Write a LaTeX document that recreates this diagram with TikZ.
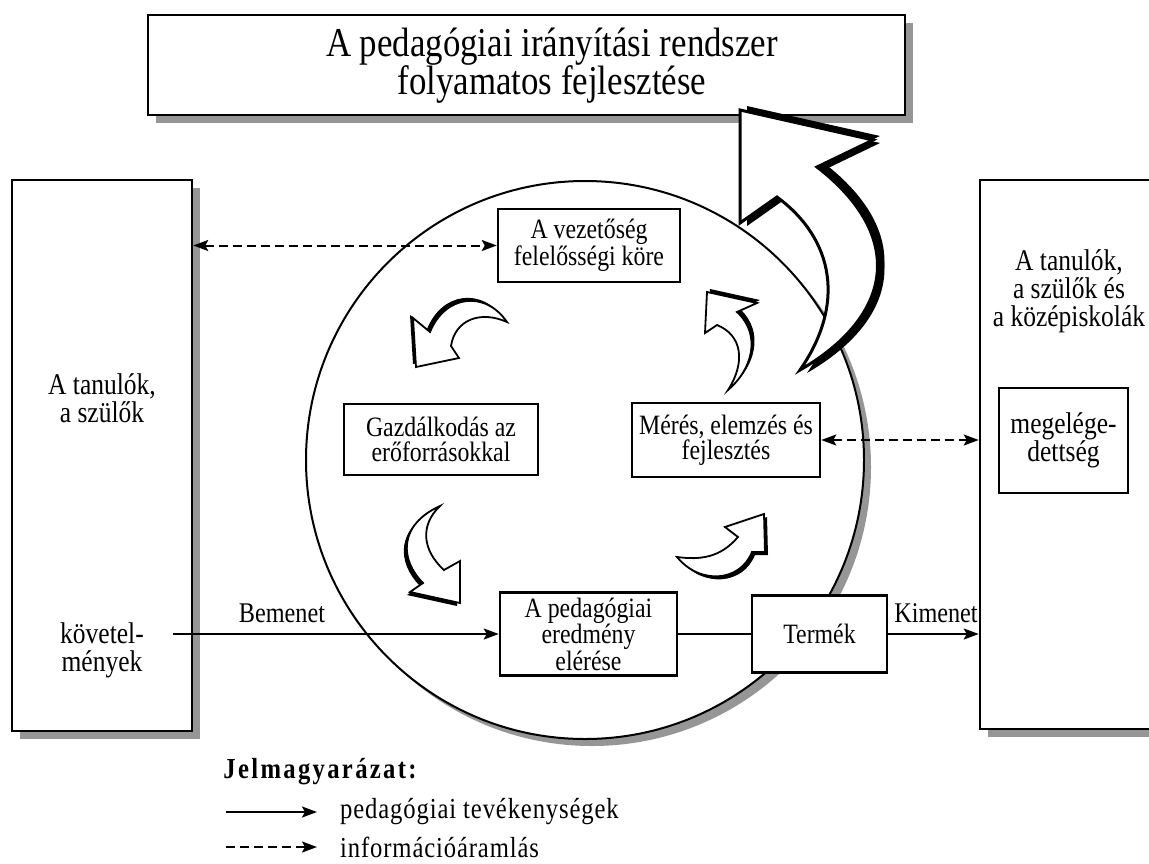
\documentclass[tikz,border=0pt]{standalone}
\usepackage{fontspec}
\setmainfont[FakeStretch=0.85]{Liberation Serif}
\usetikzlibrary{arrows.meta,shadows}
\definecolor{shadowgray}{RGB}{150,150,150}
\newcommand\fTitle{\fontsize{41}{38}\selectfont}
\newcommand\fSide{\fontsize{30}{28}\selectfont}
\newcommand\fBox{\fontsize{28}{25.5}\selectfont}
\newcommand\fLbl{\fontsize{28.5}{28}\selectfont}
\newcommand\fLeg{\fontsize{29}{28}\selectfont}
\def\arrOne{(416,367) -- (413,318) -- (430,332) .. controls (445,295) and (485,290) .. (507,322) .. controls (480,310) and (455,320) .. (451,346) -- (459,358) -- cycle}
\def\arrTwo{(460,603) -- (410,592) -- (423,583) .. controls (400,560) and (398,525) .. (440,506) .. controls (420,525) and (422,550) .. (444,570) -- (460,561) -- cycle}
\def\arrThree{(764,514) -- (725,527) -- (738,537) .. controls (720,558) and (700,560) .. (677,557) .. controls (700,585) and (740,582) .. (752,552) -- (765,552) -- cycle}
\def\arrFour{(707,292) -- (757,303) -- (737,312) .. controls (762,335) and (752,370) .. (728,390) .. controls (746,362) and (742,335) .. (717,325) -- (705,333) -- cycle}
\def\arrBig{(740,110) -- (873,140) -- (817,167) .. controls (905,235) and (895,315) .. (800,370) .. controls (845,305) and (835,240) .. (777,197) -- (740,223) -- cycle}
\begin{document}
\begin{tikzpicture}[x=1pt,y=-1pt,
  mytip/.tip={Stealth[length=15pt,width=11pt,inset=3pt]},
  box/.style={draw, line width=2.5pt, fill=white, inner sep=0pt, align=center, font=\fBox},
  shad/.style={drop shadow={shadow xshift=8pt, shadow yshift=-8pt, fill=shadowgray, opacity=1}},
  conn/.style={line width=2pt},
  arr/.style={conn, -mytip},
  dasharr/.style={conn, mytip-mytip, dash pattern=on 9pt off 5pt},
  curvy/.style={fill=white, draw=black, line width=1.8pt, line join=miter},
]
\useasboundingbox (0,0) rectangle (1149,863);

% big frames
\node[box, shad, minimum width=757pt, minimum height=100pt] (title) at (526.5,65) {};
\node[font=\fTitle, align=center] (ttext) at (552,66) {A pedagógiai irányítási rendszer\\folyamatos fejlesztése};
\node[box, shad, minimum width=180pt, minimum height=551pt] (left) at (102,455.5) {};
\node[box, shad, minimum width=220pt, minimum height=549pt] (right) at (1090,454.5) {};
\node[font=\fSide, align=center] (ltop) at (102,398) {A tanulók,\\a szülők};
\node[font=\fSide, align=center] (lbot) at (102,650) {követel-\\mények};
\node[font=\fSide, align=center] (rtop) at (1069,291) {A tanulók,\\a szülők és\\a középiskolák};
\node[box, font=\fSide, minimum width=129pt, minimum height=105pt] (meg) at (1063.5,440.5) {megelége-\\dettség};

% circle
\node[circle, draw, line width=2pt, fill=white, minimum size=558pt, inner sep=0pt,
  drop shadow={shadow xshift=7pt, shadow yshift=-7pt, fill=shadowgray, opacity=1}] (circ) at (585,460) {};

% inner boxes
\node[box, minimum width=182pt, minimum height=73pt] (vez) at (589,245.5) {A vezetőség\\felelősségi köre};
\node[box, minimum width=194pt, minimum height=71pt] (gaz) at (441,439.5) {Gazdálkodás az\\erőforrásokkal};
\node[box, minimum width=188pt, minimum height=74pt] (mer) at (726,440) {Mérés, elemzés és\\fejlesztés};
\node[box, minimum width=177pt, minimum height=83pt] (ped) at (588.5,634) {A pedagógiai\\eredmény\\elérése};
\node[box, minimum width=135pt, minimum height=77pt] (term) at (819.5,634) {Termék};

% small curved arrows
\begin{scope}[shift={(-3,-3)}] \fill \arrOne; \end{scope}
\path[curvy] \arrOne;
\begin{scope}[shift={(-3,3)}] \fill \arrTwo; \end{scope}
\path[curvy] \arrTwo;
\begin{scope}[shift={(3,3)}] \fill \arrThree; \end{scope}
\path[curvy] \arrThree;
\begin{scope}[shift={(3,-3)}] \fill \arrFour; \end{scope}
\path[curvy] \arrFour;

% big curved arrow
\begin{scope}[shift={(7,-4)}] \fill \arrBig; \end{scope}
\begin{scope}[shift={(7,3)}] \fill \arrBig; \end{scope}
\path[curvy, line width=3pt] \arrBig;

% connectors
\coordinate (lstart) at (173,634);
\draw[arr] (lstart) -- (ped.west);
\draw[conn] (ped.east) -- (term.west);
\draw[arr] (term.east) -- (term.east -| right.west);
\draw[dasharr] (vez.west -| left.east) -- (vez.west);
\draw[dasharr] (mer.east) -- (mer.east -| right.west);
\node[font=\fLbl] (bem) at (282,613) {Bemenet};
\node[font=\fLbl] (kim) at (936,613) {Kimenet};

% legend
\node[font={\fLeg\bfseries\addfontfeature{LetterSpace=8}}] (leg) at (320,772) {Jelmagyarázat:};
\coordinate (l1a) at (226,812); \coordinate (l1b) at (317,812);
\coordinate (l2a) at (226,847); \coordinate (l2b) at (317,847);
\draw[arr] (l1a) -- (l1b);
\draw[conn, -mytip, dash pattern=on 9pt off 5pt] (l2a) -- (l2b);
\node[font={\fLeg\addfontfeature{LetterSpace=3}}, anchor=west, inner sep=0pt] (l1t) at (340,812) {pedagógiai tevékenységek};
\node[font={\fLeg\addfontfeature{LetterSpace=3}}, anchor=west, inner sep=0pt] (l2t) at (340,847) {információáramlás};
\end{tikzpicture}
\end{document}
